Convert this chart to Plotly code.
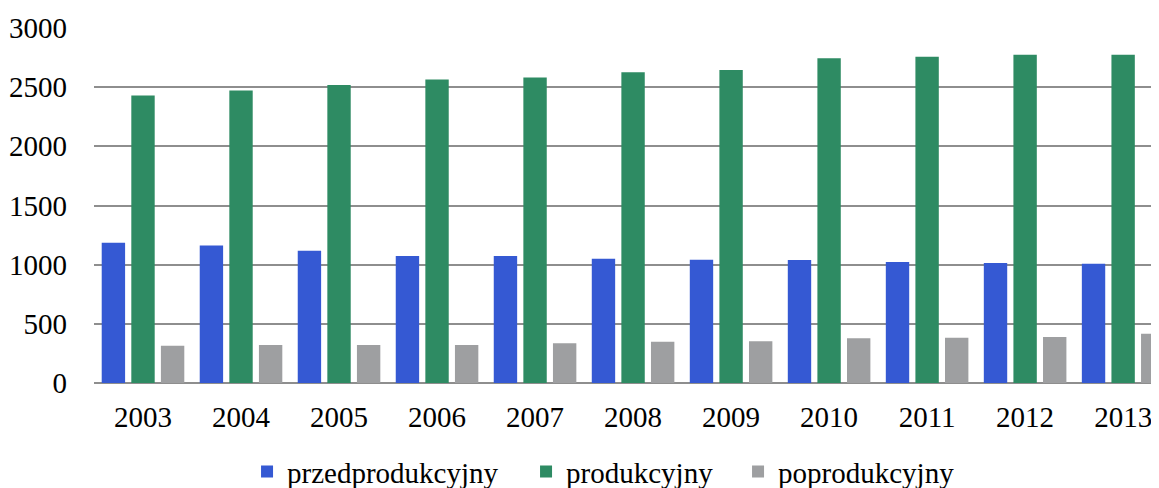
import plotly.graph_objects as go

years = [2003, 2004, 2005, 2006, 2007, 2008, 2009, 2010, 2011, 2012, 2013]
year_labels = [str(y) for y in years]
przedprodukcyjny = [1186, 1161, 1118, 1073, 1073, 1051, 1042, 1040, 1023, 1014, 1008]
produkcyjny = [2429, 2471, 2519, 2564, 2581, 2626, 2646, 2745, 2758, 2775, 2775]
poprodukcyjny = [315, 321, 321, 321, 335, 349, 352, 378, 383, 389, 417]
y_ticks = [0, 500, 1000, 1500, 2000, 2500, 3000]

FONT = "Liberation Serif"

fig = go.Figure()
fig.add_trace(go.Bar(x=years, y=przedprodukcyjny, name="przedprodukcyjny",
                     marker=dict(color="#3559D3", line=dict(width=0)), legendwidth=234))
fig.add_trace(go.Bar(x=years, y=produkcyjny, name="produkcyjny",
                     marker=dict(color="#2E8B63", line=dict(width=0)), legendwidth=167))
fig.add_trace(go.Bar(x=years, y=poprodukcyjny, name="poprodukcyjny",
                     marker=dict(color="#9E9FA1", line=dict(width=0))))

# page body adds an 8px offset; margins compensate for it
fig.update_layout(
    width=1151, height=480,
    margin=dict(l=86, r=0, t=20, b=105, autoexpand=False),
    paper_bgcolor="white", plot_bgcolor="white",
    barmode="group", bargap=0.094, bargroupgap=0.21,
    font=dict(family=FONT, size=29, color="black"),
    showlegend=True,
    legend=dict(orientation="h", x=0.1437, xanchor="left", y=-0.25, yanchor="middle",
                font=dict(family=FONT, size=29, color="black"), itemwidth=30,
                traceorder="normal", bgcolor="rgba(0,0,0,0)"),
)
fig.update_xaxes(
    type="linear", range=[2002.5, 2013.366], automargin=False,
    tickmode="array", tickvals=years, ticktext=year_labels,
    showgrid=False, zeroline=False, showline=False, ticks="",
    ticklabelstandoff=14,
    tickfont=dict(family=FONT, size=29, color="black"),
)
fig.update_yaxes(
    range=[0, 3000], tickmode="array", tickvals=y_ticks, automargin=False,
    showgrid=True, gridcolor="#8E8E8E", gridwidth=2,
    zeroline=True, zerolinecolor="#8E8E8E", zerolinewidth=2,
    showline=False, ticks="", ticklabelstandoff=26,
    tickfont=dict(family=FONT, size=29, color="black"),
)

fig.write_html("out.html")
